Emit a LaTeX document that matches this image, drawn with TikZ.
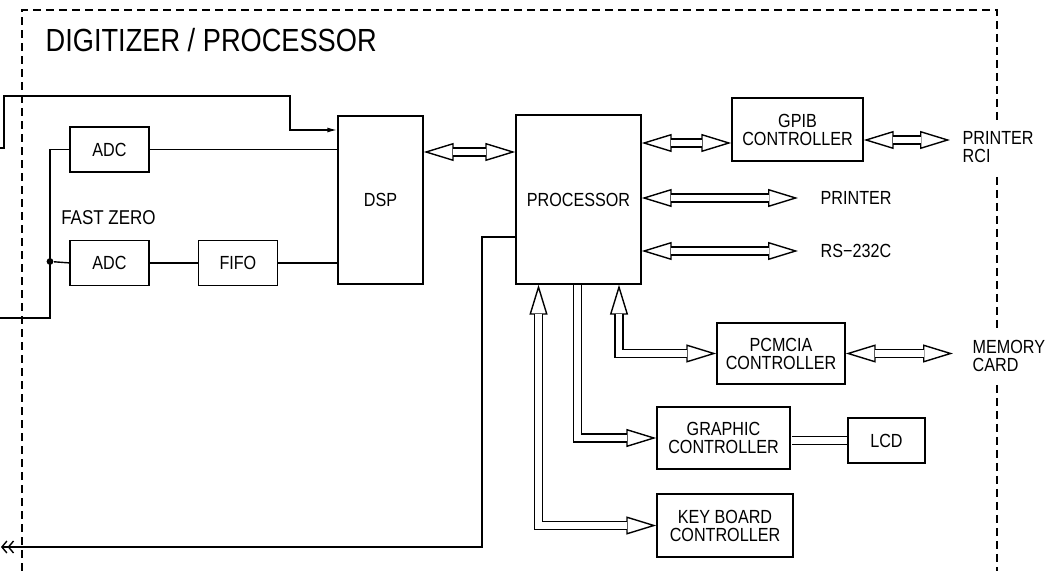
\documentclass[tikz,border=0pt]{standalone}
\usepackage{fontspec}
\newfontfamily\dgfont[FakeStretch=0.85]{Liberation Sans}
\usetikzlibrary{arrows.meta,positioning,calc}

\begin{document}
\begin{tikzpicture}[
    x=0.5pt, y=-0.5pt,
    line width=0.7pt,
    blk/.style={draw,align=center,inner sep=0pt,font=\dgfont\fontsize{9.5}{9}\selectfont},
    lbl/.style={align=left,inner sep=0pt,font=\dgfont\fontsize{9.5}{9}\selectfont},
    frame/.style={dash pattern=on 4pt off 2.5pt},
    bt/.tip={Triangle[open,length=15pt,width=9pt]},
    bus/.style={postaction={draw,bt-bt},postaction={draw,double,double distance=3.4pt,shorten <=14.5pt,shorten >=14.5pt}},
    busout/.style={postaction={draw,-bt},postaction={draw,double,double distance=3.4pt,shorten <=0.4pt,shorten >=14.5pt}},
    sig/.style={-{Latex[length=5pt,width=2.5pt]}}
]
\useasboundingbox (0,0) rectangle (1049,571);
\draw[frame] (22,571) -- (22,10) -- (997,10) -- (997,571);
\node[anchor=base west,inner sep=0pt,font=\dgfont\fontsize{16}{16}\selectfont] (title) at (45,52) {DIGITIZER / PROCESSOR};

% digitizer side
\node[blk,minimum width=39.5pt,minimum height=22.5pt] (adc1) at (109.5,149.5) {ADC};
\node[blk,minimum width=39.5pt,minimum height=22.5pt,below=33.5pt of adc1] (adc2) {ADC};
\node[blk,minimum width=39.5pt,minimum height=22.5pt,right=24pt of adc2] (fifo) {FIFO};
\node[blk,minimum width=42.5pt,minimum height=84pt] (dsp) at (380.5,200) {DSP};
\node[lbl,font=\dgfont\fontsize{10}{10}\selectfont] (fzlbl) at (108.5,217.5) {FAST ZERO};
\node[circle,fill,inner sep=1.2pt] (fz) at (50,261.5) {};
\coordinate (in1) at (0,148);
\coordinate (in2) at (0,318);
\coordinate (out1) at (1,547);

% processor side
\node[blk,minimum width=62.5pt,minimum height=84.5pt] (proc) at (578.5,199.5) {PROCESSOR};
\node[blk,minimum width=65.5pt,minimum height=31.5pt] (gpib) at (797.5,129.5) {GPIB\\CONTROLLER};
\node[blk,minimum width=64pt,minimum height=30.5pt] (pcmcia) at (781,353.5) {PCMCIA\\CONTROLLER};
\node[blk,minimum width=66.5pt,minimum height=31pt] (gfx) at (723.5,438) {GRAPHIC\\CONTROLLER};
\node[blk,minimum width=38.5pt,minimum height=22.5pt] (lcd) at (886.5,440.5) {LCD};
\node[blk,minimum width=68pt,minimum height=31.5pt] (kbd) at (725,525.5) {KEY BOARD\\CONTROLLER};

\node[lbl,anchor=west] (prn) at (820,198) {PRINTER};
\node[lbl,anchor=west] (rs) at (820,251) {RS−232C};
\node[lbl,anchor=west,fill=white,inner ysep=5pt] (rci) at (962,147) {PRINTER\\RCI};
\node[lbl,anchor=west,fill=white,inner ysep=5pt] (mem) at (972,356) {MEMORY\\CARD};

% signal lines
\draw[sig] (in1) -- ++(4,0) |- (290,96) |- (dsp.west |- 0,130);
\draw (in2) -- (50,318) |- (adc1.west);
\draw (fz) -- (adc2.west);
\draw (adc1.east) -- (adc1.east -| dsp.west);
\draw (adc2) -- (fifo);
\draw (fifo.east) -- (fifo.east -| dsp.west);
\draw[-{Straight Barb[length=2.5pt,width=6pt]Straight Barb[length=2.5pt,width=6pt]}] (proc.west |- 0,237) -| (482,547) -- (out1);

% buses
\path[bus] (dsp.east |- 0,152) -- (proc.west |- 0,152);
\path[bus] (proc.east |- 0,143) -- (gpib.west |- 0,143);
\path[bus] (gpib.east |- 0,140) -- ($(rci.west |- 0,140)+(-12,0)$);
\path[bus] (proc.east |- 0,198) -- ($(prn.west)+(-22,0)$);
\path[bus] (proc.east |- 0,251) -- ($(rs.west)+(-22,0)$);
\path[bus] (proc.south -| 619,0) |- (pcmcia.west);
\path[bus] (pcmcia.east) -- ($(mem.west |- pcmcia.east)+(-19,0)$);
\path[busout] (proc.south -| 577.5,0) |- (gfx.west);
\path[bus] (proc.south -| 538.5,0) |- (kbd.west);
\draw[double,double distance=3.4pt,shorten <=0.4pt,shorten >=0.4pt] (lcd.west -| gfx.east) -- (lcd.west);
\end{tikzpicture}
\end{document}
